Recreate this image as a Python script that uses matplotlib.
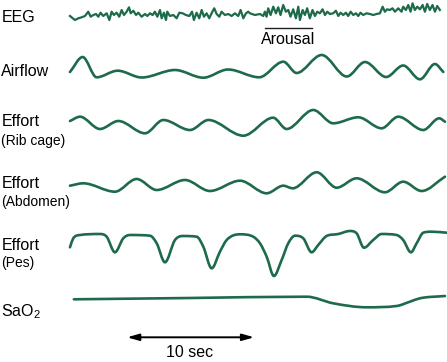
import matplotlib.pyplot as plt
from matplotlib.path import Path
from matplotlib.patches import PathPatch

plt.rcParams['font.family'] = ['Liberation Sans', 'DejaVu Sans']
plt.rcParams['mathtext.fontset'] = 'custom'
plt.rcParams['mathtext.rm'] = 'Liberation Sans'

# time in seconds, amplitude in arbitrary units (up = positive)
eeg_t = [0, 0.39, 0.66, 0.92, 1.18, 1.44, 1.63, 1.84, 2.05, 2.23, 2.41, 2.62, 2.89,
         3.10, 3.28, 3.46, 3.67, 3.88, 4.07, 4.25, 4.46, 4.65, 4.78, 4.99, 5.20, 5.38,
         5.64, 5.91, 6.09, 6.30, 6.51, 6.69, 6.88, 7.09, 7.22, 7.40, 7.56, 7.66, 7.87,
         8.14, 8.40, 8.61, 8.87, 9.13, 9.40, 9.61, 9.76, 9.97, 10.18, 10.37, 10.55,
         10.76, 10.97, 11.15, 11.36, 11.55, 11.76, 11.94, 12.2, 12.47, 12.73, 12.99,
         13.25, 13.44, 13.65, 13.86, 14.04,
         14.17, 14.56, 14.96, 15.22, 15.35, 15.48, 15.61, 15.8, 16.01, 16.22, 16.4,
         16.58, 16.79, 17.0, 17.19, 17.37, 17.58, 17.79, 17.98, 18.11, 18.32, 18.5,
         18.68, 18.89, 19.1, 19.29, 19.47, 19.68, 19.89, 20.08, 20.26, 20.47, 20.73,
         20.94, 21.13, 21.31, 21.52, 21.73, 21.91, 22.1, 22.31, 22.52, 22.7, 22.88,
         23.09, 23.36, 23.62, 23.88, 24.14, 24.41, 24.62, 24.8, 24.98, 25.19, 25.4,
         25.59, 25.85, 26.11, 26.24, 26.45, 26.64, 26.82, 26.98, 27.16, 27.35, 27.56,
         27.77, 27.95, 28.13, 28.34, 28.55, 28.74, 28.92, 29.13]
eeg_v = [-1, -5, -3.3, -2.3, -1, 3.3, -1.7, 0, 1, -1.7, 2.3, -1, 1.7,
         -5, 3.3, 0, 2.3, -1.7, 5, 0, 3.3, 7.7, 1.7, 4.3, 0, 2.3,
         -1.7, 1, -1, 1.7, 0, 3.3, -1.7, 5, -3.3, 2.3, -5, 3.3, -1,
         0, -3.3, 2.3, 1.7, 0, -1, 3.3, -5, 2.3, -3.3, 5, -1.7,
         1.7, -3.3, 1.7, 6.7, 1, -1.7, 3.3, 0, 1, -1, 1.7,
         -1, 5, -3.3, 1.7, 3.3,
         1.7, 0, 1, -1, 3.3, -1.7, 6.7, 0, 8.3, 1.7, 7.7,
         0, 10, 3.3, 5, -1.7, 5.7, -3.3, 8.3, -5, 5, 0,
         6.7, -3.3, 5, -1, 3.3, 1.7, 5.7, 0, 3.3, 1, 1.7,
         4.3, -1, 2.3, 0, 2.3, -1, 3.3, 0, 1.7, -1, 2.3,
         0, 1.7, 1, 0, 1, 1.7, 8.3, 3.3, 5.7, 5, 6.7,
         3.3, 6.7, 3.3, 8.3, 5, 10, 3.3, 11.7, 5, 8.3, 5.7,
         10, 3.3, 11, 5, 10, 3.3, 9, 5]

airflow_t = [0, 1.0, 2.1, 3.75, 5.65, 8.27, 10.5, 12.45, 14.9, 16.8, 17.85, 19.82,
             21.8, 23.23, 24.9, 26.24, 27.56, 28.74, 29.4]
airflow_v = [0, 15, -5.3, 1.3, -5.5, 2, -5.7, 2.5, -5.3, 10.3, -1, 17,
             -4.5, 10, -5, 6.5, -7.3, 8, 0]

rib_t = [0, 0.79, 2.36, 3.81, 5.91, 7.35, 9.45, 10.9, 13.65, 16.0, 17.06, 19.16,
         20.73, 22.7, 24.54, 25.85, 27.82, 29.08, 29.53]
rib_v = [4, 8.3, -4, 4, -8.3, 5, -5, 5, -10.7, 7.3, -4, 15,
         1.7, 7.7, -3.3, 8.3, -5, 6.7, 3.3]

abd_t = [0, 1.05, 3.54, 5.25, 6.83, 9.06, 11.02, 13.39, 15.49, 16.8, 17.54, 19.43,
         21.0, 22.57, 24.8, 26.24, 27.69, 29.53]
abd_v = [-0.7, 1.7, -6.7, 6, -5, 5, -6, 4.3, -8.3, -0.7, -3.3, 12.7,
         -2.7, 6.7, -7.3, 3.3, -6, 8.3]

pes_t = [0, 0.26, 0.79, 2.36, 2.89, 3.54, 4.2, 4.72, 6.3, 6.83, 7.48, 8.27, 8.92,
         9.98, 10.5, 11.16, 11.81, 12.34, 13.39, 14.43, 14.96, 15.49, 16.06, 16.67,
         17.19, 17.72, 18.37, 19.03, 19.55, 20.21, 21.13, 22.05, 22.57, 23.15, 23.88,
         24.54, 25.72, 26.24, 26.85, 27.3, 27.82, 28.48, 29.66]
pes_v = [-7.3, 1.7, 5, 6, 3.3, -12.3, 1.7, 5, 4.3, -3.3, -22.3, 0, 4,
         3.3, -6.7, -28.3, -11.7, 0, 5.7, 3.3, -3.3, -16.7, -36, -20,
         -3.3, 4.3, 1.7, -12.3, -5, 4, 6, 9, 6.7, -7.7, 0,
         6, 5, 0, -12.3, -3.3, 7.3, 8.3, 7.3]

sao2_t = [0.31, 9.45, 18.64, 20.73, 23.36, 25.72, 26.77, 27.56, 29.53]
sao2_v = [0.7, 2, 3.3, -3.3, -7.3, -6, -1.7, 1.7, 4]

green = '#1d6b4b'


def smooth_path(t, v, off):
    # monotone cubic through the read points, drawn as bezier segments
    y = [off + a for a in v]
    n = len(t)
    d = [(y[k + 1] - y[k]) / (t[k + 1] - t[k]) for k in range(n - 1)]
    m = [d[0]] + [0.0] * (n - 2) + [d[-1]]
    for k in range(1, n - 1):
        if d[k - 1] * d[k] > 0:
            m[k] = (d[k - 1] + d[k]) / 2
            lim = 3 * min(abs(d[k - 1]), abs(d[k]))
            if abs(m[k]) > lim:
                m[k] = lim if m[k] > 0 else -lim
    verts = [(t[0], y[0])]
    codes = [Path.MOVETO]
    for k in range(n - 1):
        h = t[k + 1] - t[k]
        verts += [(t[k] + h / 3, y[k] + m[k] * h / 3),
                  (t[k + 1] - h / 3, y[k + 1] - m[k + 1] * h / 3),
                  (t[k + 1], y[k + 1])]
        codes += [Path.CURVE4] * 3
    return Path(verts, codes)


fig = plt.figure(figsize=(4.47, 3.62), dpi=100)
ax = fig.add_axes([0, 0, 1, 1])
ax.set_xlim(-5.51, 29.69)
ax.set_ylim(-362, 0)
ax.axis('off')

ax.plot(eeg_t, [-15 + a for a in eeg_v], color=green, lw=1.6)

for t, v, off in [(airflow_t, airflow_v, -72), (rib_t, rib_v, -125),
                  (abd_t, abd_v, -185), (pes_t, pes_v, -240), (sao2_t, sao2_v, -300)]:
    ax.add_patch(PathPatch(smooth_path(t, v, off), fc='none', ec=green, lw=1.9,
                           capstyle='round', joinstyle='round'))

fs = 11.5
lx = -5.4
ax.text(lx, -17, 'EEG', fontsize=fs, va='center')
ax.text(lx, -71.7, 'Airflow', fontsize=fs, va='center')
ax.text(lx, -121, 'Effort', fontsize=fs, va='center')
ax.text(lx, -141, '(Rib cage)', fontsize=10, va='center')
ax.text(lx, -183.3, 'Effort', fontsize=fs, va='center')
ax.text(lx, -201.7, '(Abdomen)', fontsize=10, va='center')
ax.text(lx, -245, 'Effort', fontsize=fs, va='center')
ax.text(lx, -263.3, '(Pes)', fontsize=10, va='center')
ax.text(lx, -311.7, 'SaO$_2$', fontsize=fs, va='center')

# arousal marker
ax.plot([15.35, 19.06], [-28.3, -28.3], color='#222222', lw=1)
ax.text(17.15, -40, 'Arousal', fontsize=fs, ha='center', va='center')

# 10 second scale bar
ax.annotate('', xy=(14.5, -337.3), xytext=(4.5, -337.3),
            arrowprops=dict(arrowstyle='<|-|>,head_length=0.7,head_width=0.2',
                            color='black', lw=1.4, shrinkA=0, shrinkB=0))
ax.text(9.45, -352.7, '10 sec', fontsize=fs, ha='center', va='center')

fig.set_facecolor('white')
fig.savefig('out.png', dpi=100)
